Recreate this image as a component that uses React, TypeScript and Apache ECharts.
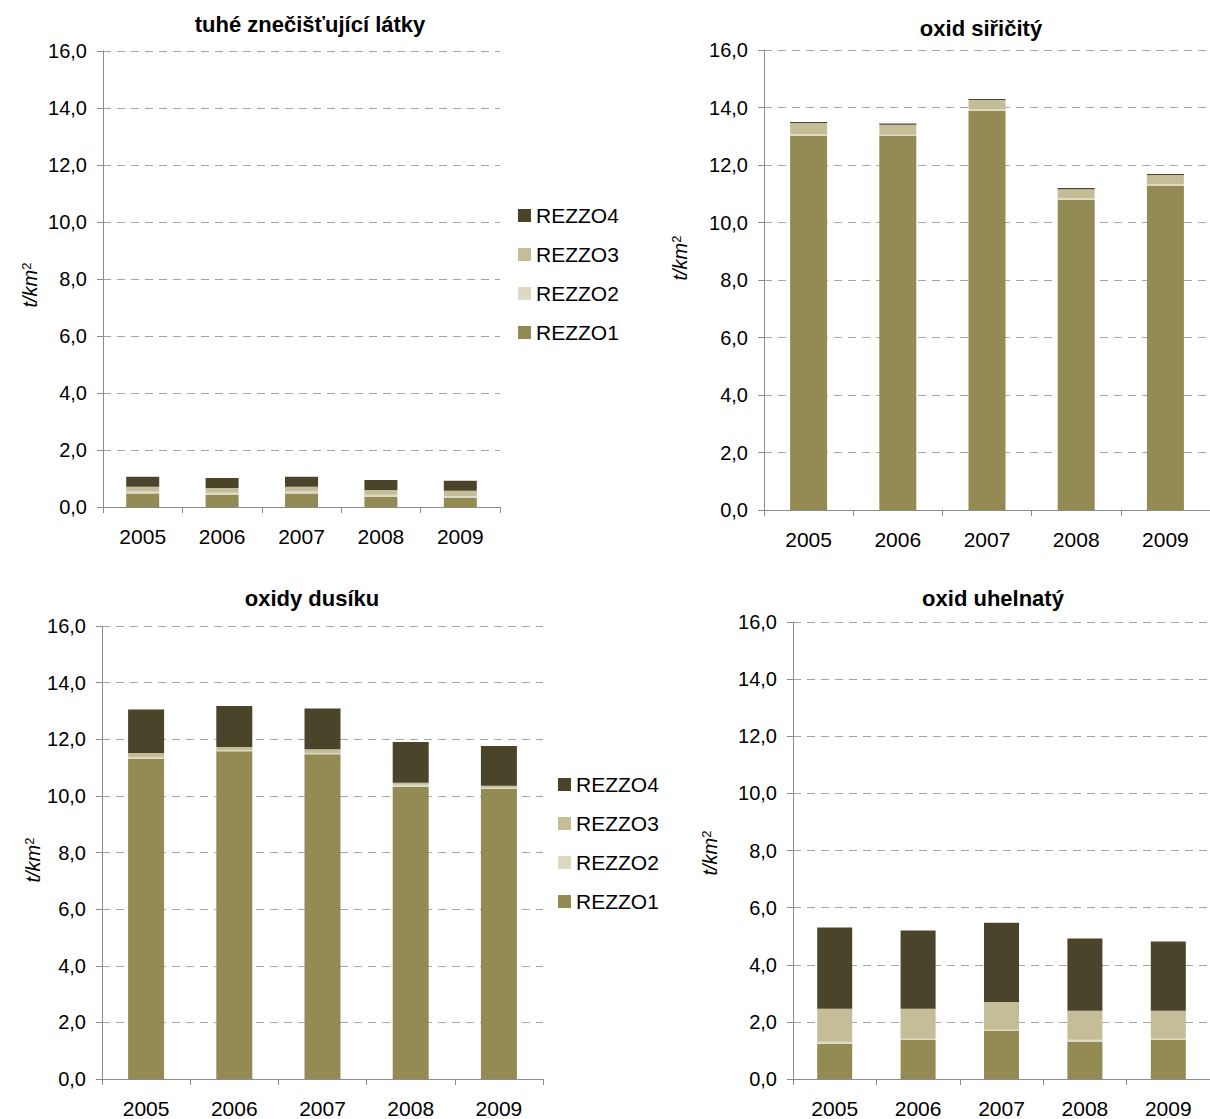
import React, { useEffect, useRef } from "react";
import * as echarts from "echarts";

const years = ["2005", "2006", "2007", "2008", "2009"];
const seriesNames = ["REZZO1", "REZZO2", "REZZO3", "REZZO4"];
const colors = ["#948A54", "#DDD9C3", "#C4BD97", "#4A452A"];
const titles = ["tuhé znečišťující látky", "oxid siřičitý", "oxidy dusíku", "oxid uhelnatý"];

// tuhé znečišťující látky
const tzlR1 = [0.47, 0.43, 0.47, 0.36, 0.32];
const tzlR2 = [0.07, 0.07, 0.07, 0.07, 0.06];
const tzlR3 = [0.17, 0.17, 0.17, 0.17, 0.19];
const tzlR4 = [0.35, 0.35, 0.35, 0.35, 0.35];

// oxid siřičitý
const so2R1 = [13.01, 13.01, 13.88, 10.78, 11.27];
const so2R2 = [0.07, 0.04, 0.07, 0.07, 0.07];
const so2R3 = [0.38, 0.35, 0.31, 0.31, 0.31];
const so2R4 = [0.04, 0.04, 0.04, 0.04, 0.04];

// oxidy dusíku
const noxR1 = [11.3, 11.58, 11.47, 10.32, 10.25];
const noxR2 = [0.07, 0.04, 0.04, 0.07, 0.04];
const noxR3 = [0.14, 0.11, 0.14, 0.07, 0.07];
const noxR4 = [1.54, 1.44, 1.44, 1.44, 1.4];

// oxid uhelnatý
const coR1 = [1.23, 1.37, 1.68, 1.3, 1.37];
const coR2 = [0.07, 0.04, 0.04, 0.07, 0.04];
const coR3 = [1.16, 1.05, 0.98, 1.02, 0.98];
const coR4 = [2.84, 2.74, 2.77, 2.53, 2.42];

const chartData = [
  [tzlR1, tzlR2, tzlR3, tzlR4],
  [so2R1, so2R2, so2R3, so2R4],
  [noxR1, noxR2, noxR3, noxR4],
  [coR1, coR2, coR3, coR4],
];

const FONT = "'Liberation Sans', Arial, sans-serif";

export default function App() {
  const ref = useRef<HTMLDivElement>(null);

  useEffect(() => {
    if (!ref.current) return;
    const chart = echarts.init(ref.current, null, { renderer: "svg" });

    const grids = [
      { left: 103, top: 51, width: 397, height: 456 },
      { left: 764, top: 50, width: 453, height: 460 },
      { left: 102, top: 626, width: 441, height: 455 },
      { left: 793, top: 622, width: 430, height: 458 },
    ];
    const barWidths = [33, 37, 36, 35];
    const titlePos = [
      [310, 24],
      [981, 28],
      [312, 598],
      [993, 598],
    ];
    const yNamePos = [
      [30, 285],
      [680, 258],
      [33, 860],
      [710, 853],
    ];

    const xAxes = grids.map((_, i) => ({
      type: "category",
      gridIndex: i,
      data: years,
      axisLine: { lineStyle: { color: "#8c8c8c", width: 1 } },
      axisTick: { show: true, length: 6, lineStyle: { color: "#8c8c8c" } },
      axisLabel: { color: "#000", fontSize: 21, fontFamily: FONT, margin: 19 },
    }));

    const yAxes = grids.map((_, i) => ({
      type: "value",
      gridIndex: i,
      min: 0,
      max: 16,
      interval: 2,
      axisLine: { show: true, lineStyle: { color: "#8c8c8c", width: 1 } },
      axisTick: { show: true, length: 6, lineStyle: { color: "#8c8c8c" } },
      axisLabel: {
        color: "#000",
        fontSize: 20,
        fontFamily: FONT,
        margin: 16,
        formatter: (v: number) => v.toFixed(1).replace(".", ","),
      },
      splitLine: {
        show: true,
        lineStyle: { color: "#a6a6a6", type: [8, 6], width: 1 },
      },
    }));

    const series: any[] = [];
    chartData.forEach((groups, i) => {
      groups.forEach((values, k) => {
        series.push({
          type: "bar",
          name: seriesNames[k],
          stack: "s" + i,
          xAxisIndex: i,
          yAxisIndex: i,
          barWidth: barWidths[i],
          data: values,
          itemStyle: { color: colors[k] },
        });
      });
    });

    const graphics: any[] = [];
    titles.forEach((t, i) => {
      graphics.push({
        type: "text",
        x: titlePos[i][0],
        y: titlePos[i][1],
        style: {
          text: t,
          align: "center",
          verticalAlign: "middle",
          fill: "#000",
          font: `bold 22px ${FONT}`,
        },
      });
      graphics.push({
        type: "text",
        x: yNamePos[i][0],
        y: yNamePos[i][1],
        rotation: Math.PI / 2,
        style: {
          text: "{a|t/km}{s|2}",
          align: "center",
          verticalAlign: "middle",
          fill: "#000",
          rich: {
            a: { fontSize: 20, fontStyle: "italic", fontFamily: FONT, fill: "#000" },
            s: { fontSize: 13, fontFamily: FONT, verticalAlign: "top", fill: "#000" },
          },
        },
      });
    });

    const legendBase = {
      orient: "vertical",
      data: ["REZZO4", "REZZO3", "REZZO2", "REZZO1"],
      itemWidth: 13,
      itemHeight: 13,
      itemGap: 18,
      padding: 0,
      icon: "rect",
      selectedMode: false,
      textStyle: { color: "#000", fontSize: 21, fontFamily: FONT, lineHeight: 21 },
    };

    chart.setOption({
      animation: false,
      backgroundColor: "#fff",
      grid: grids,
      xAxis: xAxes,
      yAxis: yAxes,
      series,
      legend: [
        { ...legendBase, left: 518, top: 205 },
        { ...legendBase, left: 558, top: 774 },
      ],
      graphic: graphics,
    });

    return () => chart.dispose();
  }, []);

  return (
    <div
      ref={ref}
      style={{ position: "absolute", left: 0, top: 0, width: 1210, height: 1119 }}
    />
  );
}
